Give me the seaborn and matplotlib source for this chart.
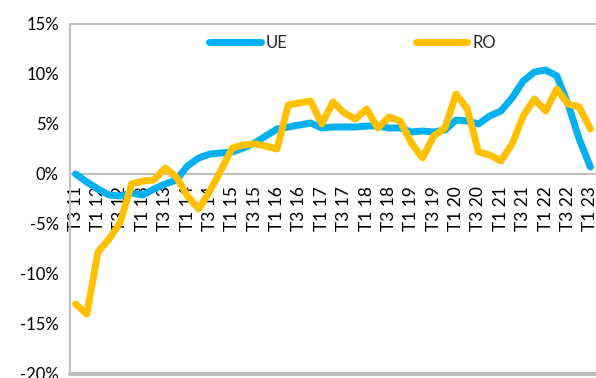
import matplotlib
matplotlib.use("Agg")
import matplotlib.pyplot as plt
import seaborn as sns
import pandas as pd
from matplotlib.ticker import FuncFormatter

quarters = ["T3 11", "T4 11"]
for yy in range(12, 23):
    quarters += [f"T1 {yy}", f"T2 {yy}", f"T3 {yy}", f"T4 {yy}"]
quarters += ["T1 23"]

ue = [0.0, -0.8, -1.5, -2.1, -2.2, -1.9, -2.1, -1.5, -1.0, -0.6,
      0.8, 1.6, 2.0, 2.1, 2.2, 2.6, 3.1, 3.8, 4.5, 4.7,
      4.9, 5.1, 4.6, 4.7, 4.7, 4.7, 4.8, 4.8, 4.6, 4.6,
      4.2, 4.3, 4.2, 4.4, 5.4, 5.3, 5.0, 5.8, 6.3, 7.6,
      9.3, 10.2, 10.4, 9.8, 7.0, 3.5, 0.7]
ro = [-13.0, -14.0, -7.8, -6.5, -4.8, -1.0, -0.7, -0.6, 0.6, -0.3,
      -2.2, -3.5, -1.7, 0.4, 2.6, 2.9, 3.0, 2.8, 2.5, 6.9,
      7.1, 7.3, 5.0, 7.2, 6.1, 5.5, 6.5, 4.6, 5.7, 5.3,
      3.1, 1.6, 3.8, 4.6, 8.0, 6.5, 2.2, 1.9, 1.3, 3.0,
      5.8, 7.5, 6.3, 8.5, 7.0, 6.7, 4.5]
series_names = ["UE", "RO"]
colors = {"UE": "#00B0F0", "RO": "#FFC000"}

n = len(quarters)
df = pd.DataFrame({
    "idx": list(range(n)) * 2,
    "value": ue + ro,
    "series": ["UE"] * n + ["RO"] * n,
})

sns.set_theme(style="white")
plt.rcParams["font.family"] = ["Lato", "DejaVu Sans"]

fig = plt.figure(figsize=(5.96, 3.78), dpi=100)
ax = fig.add_axes([70 / 596, 4 / 378, 526 / 596, 350 / 378])

sns.lineplot(data=df, x="idx", y="value", hue="series", hue_order=series_names,
             palette=colors, linewidth=5, ax=ax, sort=False)
for ln in ax.get_lines():
    ln.set_solid_capstyle("round")
    ln.set_solid_joinstyle("round")
    ln.set_zorder(3)

gray = "#BFBFBF"
for s in ["left", "top"]:
    ax.spines[s].set_color(gray)
    ax.spines[s].set_linewidth(1.5)
ax.spines["right"].set_visible(False)
ax.spines["bottom"].set_position(("data", 0))
ax.spines["bottom"].set_color(gray)
ax.spines["bottom"].set_linewidth(1.5)
ax.axhline(-20, color=gray, linewidth=3, clip_on=False, zorder=0)

ax.set_xlim(-0.5, n - 0.5)
ax.set_ylim(-20, 15)
ax.set_yticks(range(-20, 16, 5))
ax.yaxis.set_major_formatter(FuncFormatter(lambda v, p: f"{int(v)}%"))
ax.set_xticks(list(range(0, n, 2)))
ax.set_xticklabels(quarters[0::2], rotation=90, va="top", ha="center")
ax.tick_params(axis="both", length=0, labelsize=12, colors="black")
ax.tick_params(axis="x", pad=8.5, labelsize=12.5)
ax.tick_params(axis="y", pad=8)
ax.set_xlabel("")
ax.set_ylabel("")

handles, labels = ax.get_legend_handles_labels()
ax.legend(handles, labels, loc="center", bbox_to_anchor=(0.537, 0.946),
          ncol=2, frameon=False, fontsize=12, handlelength=3.1,
          columnspacing=7.7, handletextpad=0.3)

fig.savefig("out.png", dpi=100)
